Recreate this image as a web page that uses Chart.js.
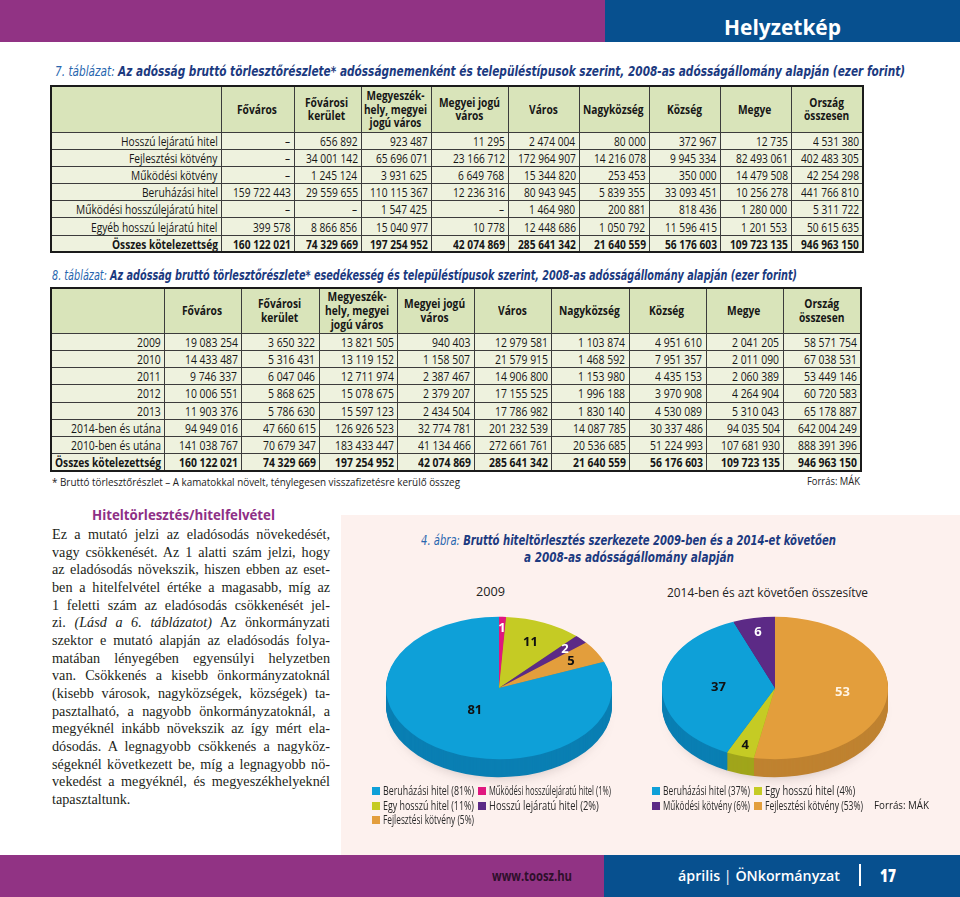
<!DOCTYPE html>
<html lang="hu">
<head>
<meta charset="utf-8">
<script src="https://cdn.jsdelivr.net/npm/chart.js@4.4.1/dist/chart.umd.min.js"></script>
<style>
  html,body{margin:0;padding:0;background:#fff;}
  body{width:960px;height:897px;position:relative;overflow:hidden;font-family:"Open Sans",sans-serif;color:#231f20;}
  .abs{position:absolute;}
  .fit{position:absolute;white-space:nowrap;display:inline-block;transform-origin:0 50%;}
  .bar-p{background:#913384;}
  .bar-b{background:#07508f;}
  .tn{font-style:italic;font-weight:normal;color:#2866ae;}
  .tb{font-style:italic;font-weight:bold;color:#1c3a80;}
  .ttl{font-family:"DejaVu Sans Condensed","Open Sans",sans-serif;}
  table.dt{position:absolute;border-collapse:collapse;table-layout:fixed;border:2px solid #1b1b1b;font-family:"Open Sans",sans-serif;color:#161616;}
  table.dt td, table.dt th{border:1px solid #3c3c3c;padding:0 3px 0 2px;white-space:nowrap;}
  table.dt th{background:#d9e4ba;font-weight:bold;text-align:center;}
  table.dt td{background:#eef2de;text-align:right;}
  table.dt tr.tot td{font-weight:bold;}
  .cw{display:inline-block;white-space:nowrap;vertical-align:middle;text-align:left;}
  .cw > span{display:inline-block;transform-origin:0 50%;white-space:nowrap;}
  th .cw > span{text-align:center;}
  .panel{position:absolute;left:341px;top:515px;width:619px;height:340px;background:#fdf1ee;}
  .body-text{position:absolute;left:52px;top:526px;width:278px;font-family:"Liberation Serif","DejaVu Serif",serif;font-size:14.2px;line-height:17.67px;color:#231f20;}
  .body-text div{text-align:justify;text-align-last:justify;white-space:nowrap;}
  .body-text div.last{text-align-last:left;}
  .lg{position:absolute;font-family:"Open Sans",sans-serif;font-size:12px;color:#2a2a2a;}
  .lg .it{position:absolute;height:12px;width:120px;}
  .lg .sw{position:absolute;left:0;top:2px;width:8px;height:8px;}
  .lg .tx{position:absolute;left:11px;top:-2px;white-space:nowrap;line-height:15px;transform-origin:0 50%;}
  canvas{position:absolute;}
</style>
</head>
<body>
<!-- top banner -->
<div class="abs bar-p" style="left:0;top:0;width:605px;height:42px"></div>
<div class="abs bar-b" style="left:605px;top:0;width:355px;height:42px"></div>
<div class="fit" data-fit="117" style="left:724px;top:12px;font-weight:bold;font-size:22px;line-height:28px;color:#fff">Helyzetkép</div>

<!-- table 7 title -->
<div class="fit ttl" data-fit="850" style="left:55px;top:62px;font-size:14px;line-height:18px"><span class="tn">7. táblázat:</span> <span class="tb">Az adósság bruttó törlesztőrészlete* adósságnemenként és településtípusok szerint, 2008-as adósságállomány alapján (ezer forint)</span></div>
<table class="dt" id="t7" style="left:50px;top:85px;width:812px"></table>

<!-- table 8 title -->
<div class="fit ttl" data-fit="745" style="left:52px;top:266px;font-size:14px;line-height:18px"><span class="tn">8. táblázat:</span> <span class="tb">Az adósság bruttó törlesztőrészlete* esedékesség és településtípusok szerint, 2008-as adósságállomány alapján (ezer forint)</span></div>
<table class="dt" id="t8" style="left:50px;top:287px;width:810px"></table>

<div class="fit" data-fit="408" style="left:52px;top:475px;font-size:11px;line-height:14px;color:#222">* Bruttó törlesztőrészlet – A kamatokkal növelt, ténylegesen visszafizetésre kerülő összeg</div>
<div class="fit" data-fit="53" style="left:807px;top:474px;font-size:11px;line-height:14px;color:#222">Forrás: MÁK</div>

<!-- pink figure panel -->
<div class="panel"></div>

<!-- left text column -->
<div class="fit" data-fit="183" style="left:92px;top:505px;font-weight:bold;font-size:15px;line-height:18px;color:#8e2f86">Hiteltörlesztés/hitelfelvétel</div>
<div class="body-text">
  <div>Ez a mutató jelzi az eladósodás növekedését,</div>
  <div>vagy csökkenését. Az 1 alatti szám jelzi, hogy</div>
  <div>az eladósodás növekszik, hiszen ebben az eset-</div>
  <div>ben a hitelfelvétel értéke a magasabb, míg az</div>
  <div>1 feletti szám az eladósodás csökkenését jel-</div>
  <div>zi. <i>(Lásd a 6. táblázatot)</i> Az önkormányzati</div>
  <div>szektor e mutató alapján az eladósodás folya-</div>
  <div>matában lényegében egyensúlyi helyzetben</div>
  <div>van. Csökkenés a kisebb önkormányzatoknál</div>
  <div>(kisebb városok, nagyközségek, községek) ta-</div>
  <div>pasztalható, a nagyobb önkormányzatoknál, a</div>
  <div>megyéknél inkább növekszik az így mért ela-</div>
  <div>dósodás. A legnagyobb csökkenés a nagyköz-</div>
  <div>ségeknél következett be, míg a legnagyobb nö-</div>
  <div>vekedést a megyéknél, és megyeszékhelyeknél</div>
  <div class="last">tapasztaltunk.</div>
</div>

<!-- figure title -->
<div class="fit ttl" data-fit="415" style="left:421px;top:532px;font-size:14px;line-height:17px"><span class="tn">4. ábra:</span> <span class="tb">Bruttó hiteltörlesztés szerkezete 2009-ben és a 2014-et követően</span></div>
<div class="fit ttl" data-fit="210" style="left:524px;top:549px;font-size:14px;line-height:17px"><span class="tb">a 2008-as adósságállomány alapján</span></div>

<div class="fit" data-fit="29" style="left:476px;top:583px;font-size:13px;line-height:16px;color:#222">2009</div>
<div class="fit" data-fit="201" style="left:667px;top:584px;font-size:13px;line-height:16px;color:#222">2014-ben és azt követően összesítve</div>

<canvas id="pie1" width="240" height="240" style="left:379px;top:568px;width:240px;height:240px"></canvas>
<canvas id="pie2" width="240" height="240" style="left:655px;top:568px;width:240px;height:240px"></canvas>

<div class="lg" id="lg1" style="left:372px;top:785px;width:250px;height:40px"></div>
<div class="lg" id="lg2" style="left:652px;top:785px;width:220px;height:30px"></div>
<div class="fit" data-fit="55" style="left:874px;top:797px;font-size:11.5px;line-height:15px;color:#222">Forrás: MÁK</div>

<!-- footer -->
<div class="abs bar-p" style="left:0;top:855px;width:604px;height:42px"></div>
<div class="abs bar-b" style="left:604px;top:855px;width:356px;height:42px"></div>
<div class="fit" data-fit="80" style="left:492px;top:867px;font-weight:700;font-size:14px;line-height:18px;color:#2e0f2b">www.toosz.hu</div>
<div class="fit" data-fit="162" style="left:678px;top:867px;font-weight:600;font-size:14px;line-height:18px;color:#fff">április <span style="font-weight:400">|</span> ÖNkormányzat</div>
<div class="abs" style="left:859px;top:864px;width:2px;height:22px;background:#fff"></div>
<div class="fit" data-fit="16" style="left:880px;top:865px;font-weight:800;font-size:17px;line-height:22px;color:#fff">17</div>

<script>
// ---------------- DATA ----------------
const colHeaders = ["Főváros","Fővárosi|kerület","Megyeszék-|hely, megyei|jogú város","Megyei jogú|város","Város","Nagyközség","Község","Megye","Ország|összesen"];

// 7. táblázat – adósságnemenként (ezer forint); null = "–"
const debtTypes = ["Hosszú lejáratú hitel","Fejlesztési kötvény","Működési kötvény","Beruházási hitel","Működési hosszúlejáratú hitel","Egyéb hosszú lejáratú hitel","Összes kötelezettség"];
const rowHosszu   = [null, 656892, 923487, 11295, 2474004, 80000, 372967, 12735, 4531380];
const rowFejl     = [null, 34001142, 65696071, 23166712, 172964907, 14216078, 9945334, 82493061, 402483305];
const rowMukKotv  = [null, 1245124, 3931625, 6649768, 15344820, 253453, 350000, 14479508, 42254298];
const rowBeruh    = [159722443, 29559655, 110115367, 12236316, 80943945, 5839355, 33093451, 10256278, 441766810];
const rowMukHossz = [null, null, 1547425, null, 1464980, 200881, 818436, 1280000, 5311722];
const rowEgyeb    = [399578, 8866856, 15040977, 10778, 12448686, 1050792, 11596415, 1201553, 50615635];
const rowOsszes   = [160122021, 74329669, 197254952, 42074869, 285641342, 21640559, 56176603, 109723135, 946963150];

// 8. táblázat – esedékesség szerint (ezer forint)
const dueLabels = ["2009","2010","2011","2012","2013","2014-ben és utána","2010-ben és utána","Összes kötelezettség"];
const due2009 = [19083254, 3650322, 13821505, 940403, 12979581, 1103874, 4951610, 2041205, 58571754];
const due2010 = [14433487, 5316431, 13119152, 1158507, 21579915, 1468592, 7951357, 2011090, 67038531];
const due2011 = [9746337, 6047046, 12711974, 2387467, 14906800, 1153980, 4435153, 2060389, 53449146];
const due2012 = [10006551, 5868625, 15078675, 2379207, 17155525, 1996188, 3970908, 4264904, 60720583];
const due2013 = [11903376, 5786630, 15597123, 2434504, 17786982, 1830140, 4530089, 5310043, 65178887];
const due2014plus = [94949016, 47660615, 126926523, 32774781, 201232539, 14087785, 30337486, 94035504, 642004249];
const due2010plus = [141038767, 70679347, 183433447, 41134466, 272661761, 20536685, 51224993, 107681930, 888391396];

// 4. ábra – szerkezet (%)
const pie2009Labels = ["Működési hosszúlejáratú hitel","Egy hosszú hitel","Hosszú lejáratú hitel","Fejlesztési kötvény","Beruházási hitel"];
const pie2009Values = [1, 11, 2, 5, 81];
const pie2014Labels = ["Fejlesztési kötvény","Egy hosszú hitel","Beruházási hitel","Működési kötvény"];
const pie2014Values = [53, 4, 37, 6];

// ---------------- STYLE ----------------
const sliceColor = {
  "Beruházási hitel":"#0ea0d8", "Egy hosszú hitel":"#c5cb24", "Fejlesztési kötvény":"#e39e3c",
  "Hosszú lejáratú hitel":"#5c2a86", "Működési kötvény":"#5c2a86", "Működési hosszúlejáratú hitel":"#e0177f"
};
const sideColor = {
  "Beruházási hitel":"#0a7fb3", "Egy hosszú hitel":"#a0a51b", "Fejlesztési kötvény":"#bf8230",
  "Hosszú lejáratú hitel":"#47206b", "Működési kötvény":"#47206b", "Működési hosszúlejáratú hitel":"#b5125f"
};

// ---------------- TABLES ----------------
const fmt = v => v == null ? "–" : String(v).replace(/\B(?=(\d{3})+(?!\d))/g, " ");
const cw = html => `<span class="cw"><span>${html}</span></span>`;

function buildTable(id, colW, headH, rowH, fs, headFs, lh, labels, rows) {
  const t = document.getElementById(id);
  let h = '<colgroup>' + colW.map(w => `<col style="width:${w}px">`).join('') + '</colgroup>';
  h += `<tr style="height:${headH}px;font-size:${headFs}px;line-height:${lh}px"><th></th>` +
       colHeaders.map(c => `<th>${cw(c.split('|').join('<br>'))}</th>`).join('') + '</tr>';
  rows.forEach((r, i) => {
    const tot = i === rows.length - 1;
    h += `<tr class="${tot ? 'tot' : ''}" style="height:${rowH}px;font-size:${fs}px;line-height:13px"><td>${cw(labels[i])}</td>` +
         r.map(v => `<td>${cw(fmt(v))}</td>`).join('') + '</tr>';
  });
  t.innerHTML = h;
}
buildTable('t7', [170,73,67,70,77,71,70,71,71,72], 46, 17.2, 12.6, 12.6, 13.5, debtTypes,
  [rowHosszu, rowFejl, rowMukKotv, rowBeruh, rowMukHossz, rowEgyeb, rowOsszes]);
buildTable('t8', [113,77,78,78,77,77,78,77,77,78], 45, 17.25, 13, 12.8, 13.6, dueLabels,
  [due2009, due2010, due2011, due2012, due2013, due2014plus, due2010plus, rowOsszes]);

function condense(root, f) {
  root.querySelectorAll('.cw').forEach(outer => {
    const inner = outer.firstElementChild;
    inner.style.transform = 'none';
    outer.style.width = 'auto';
    const w = inner.getBoundingClientRect().width;
    const cell = outer.parentElement;
    const avail = cell.clientWidth - 6;
    const k = Math.min(f, avail / w);
    outer.style.width = (w * k) + 'px';
    inner.style.transform = `scaleX(${k})`;
  });
}

// ---------------- PIES ----------------
const pie3d = {
  id: 'pie3d',
  beforeDatasetsDraw(chart, args, o) {
    const ctx = chart.ctx, arcs = chart.getDatasetMeta(0).data;
    const cx = arcs[0].x, cy = arcs[0].y, R = arcs[0].outerRadius;
    const labels = chart.data.labels;
    ctx.save();
    ctx.filter = 'blur(7px)';
    ctx.fillStyle = 'rgba(90,70,70,0.35)';
    ctx.beginPath();
    ctx.ellipse(cx, cy + o.depth + 6, R * 0.9, R * o.tilt * 0.9, 0, 0, Math.PI * 2);
    ctx.fill();
    ctx.restore();
    for (let d = o.depth; d >= 1; d--) {
      ctx.save();
      ctx.translate(cx, cy + d); ctx.scale(1, o.tilt); ctx.translate(-cx, -cy);
      arcs.forEach((a, i) => {
        ctx.fillStyle = sideColor[labels[i]];
        ctx.beginPath(); ctx.moveTo(a.x, a.y);
        ctx.arc(a.x, a.y, a.outerRadius, a.startAngle, a.endAngle);
        ctx.closePath(); ctx.fill();
      });
      ctx.restore();
    }
    ctx.save();
    ctx.translate(cx, cy); ctx.scale(1, o.tilt); ctx.translate(-cx, -cy);
  },
  afterDatasetsDraw(chart, args, o) {
    const ctx = chart.ctx, arcs = chart.getDatasetMeta(0).data;
    ctx.restore();
    const vals = chart.data.datasets[0].data;
    ctx.save();
    ctx.font = 'bold 13px "Open Sans", sans-serif';
    ctx.textAlign = 'center'; ctx.textBaseline = 'middle';
    arcs.forEach((a, i) => {
      const mid = (a.startAngle + a.endAngle) / 2;
      const r = a.outerRadius * o.labelR[i];
      ctx.fillStyle = o.ink[i];
      ctx.fillText(String(vals[i]), a.x + Math.cos(mid) * r, a.y + Math.sin(mid) * r * o.tilt);
    });
    ctx.restore();
  }
};

function makePie(id, labels, values, labelR, ink) {
  return new Chart(document.getElementById(id), {
    type: 'pie',
    data: { labels, datasets: [{ data: values, backgroundColor: labels.map(l => sliceColor[l]), borderWidth: 0 }] },
    options: {
      responsive: false, animation: false, events: [],
      layout: { padding: 7 },
      plugins: { legend: { display: false }, tooltip: { enabled: false },
                 pie3d: { tilt: 0.63, depth: 18, labelR, ink } }
    },
    plugins: [pie3d]
  });
}
makePie('pie1', pie2009Labels, pie2009Values, [0.84, 0.7, 0.8, 0.74, 0.38], ['#fff', '#111', '#fff', '#111', '#111']);
makePie('pie2', pie2014Labels, pie2014Values, [0.6, 0.85, 0.5, 0.8], ['#fff4e4', '#111', '#111', '#fff']);

function buildLegend(id, labels, values, order, colW, max2) {
  const el = document.getElementById(id);
  el.innerHTML = order.map((idx, k) => {
    const col = k % 2, x = col ? colW : 0, y = Math.floor(k / 2) * 14.5;
    const max = col ? max2 : colW - 15;
    return `<div class="it" style="left:${x}px;top:${y}px"><span class="sw" style="background:${sliceColor[labels[idx]]}"></span><span class="tx" data-max="${max}">${labels[idx]} (${values[idx]}%)</span></div>`;
  }).join('');
}
buildLegend('lg1', pie2009Labels, pie2009Values, [4, 0, 1, 2, 3], 106, 122);
buildLegend('lg2', pie2014Labels, pie2014Values, [2, 1, 3, 0], 102, 98);

function fitAll() {
  document.querySelectorAll('[data-fit]').forEach(el => {
    el.style.transform = 'none';
    const w = el.getBoundingClientRect().width;
    el.style.transform = `scaleX(${parseFloat(el.dataset.fit) / w})`;
  });
  document.querySelectorAll('.lg .tx').forEach(el => {
    el.style.transform = 'none';
    const w = el.getBoundingClientRect().width;
    el.style.transform = `scaleX(${Math.min(0.78, parseFloat(el.dataset.max) / w)})`;
  });
  condense(document.getElementById('t7'), 0.81);
  condense(document.getElementById('t8'), 0.8);
}
fitAll();
if (document.fonts && document.fonts.ready) document.fonts.ready.then(fitAll);
</script>
</body>
</html>
